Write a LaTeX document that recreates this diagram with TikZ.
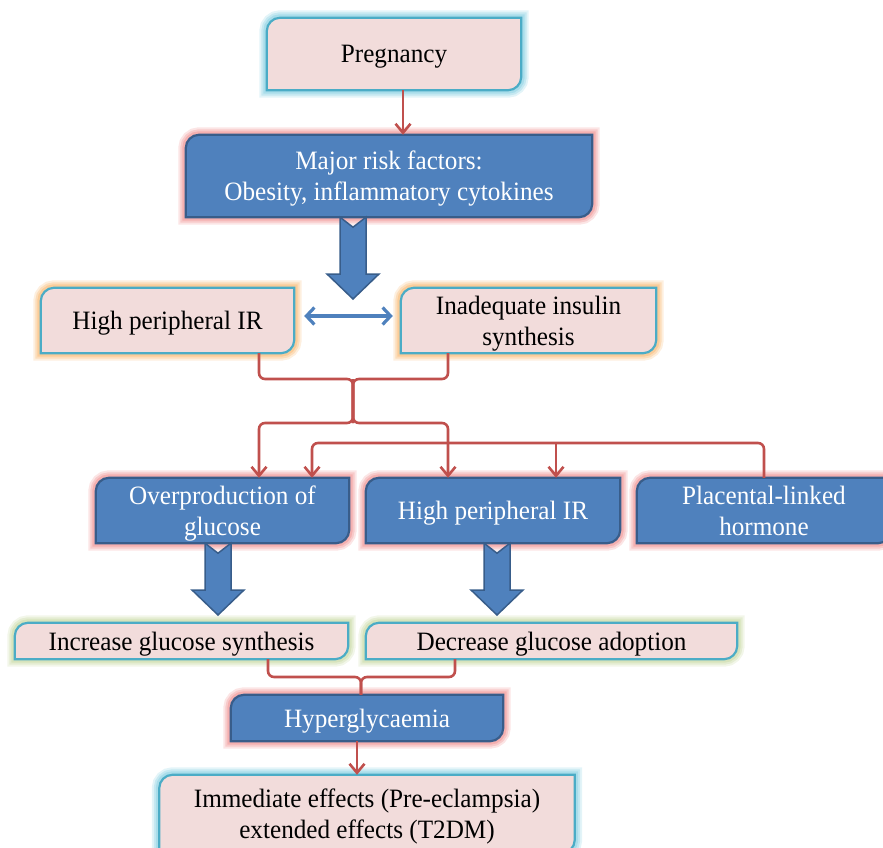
\documentclass[tikz,border=0pt]{standalone}
\usepackage{fontspec}
\setmainfont{Liberation Serif}[FakeStretch=0.95]
\usetikzlibrary{arrows.meta,backgrounds,calc}

\definecolor{pinkfill}{HTML}{F2DCDB}
\definecolor{tealline}{HTML}{4BACC6}
\definecolor{bluefill}{HTML}{4F81BD}
\definecolor{blueline}{HTML}{385D8A}
\definecolor{redline}{HTML}{C0504D}
\definecolor{cyanglow}{HTML}{7FCCE0}
\definecolor{redglow}{HTML}{EE8A8A}
\definecolor{orangeglow}{HTML}{F8B468}
\definecolor{greenglow}{HTML}{C3D69B}

\newcommand{\diagpath}[1]{([yshift=-13pt]#1.north west) .. controls ([yshift=-6pt]#1.north west) and ([xshift=6pt]#1.north west) .. ([xshift=13pt]#1.north west) -- (#1.north east) -- ([yshift=13pt]#1.south east) .. controls ([yshift=6pt]#1.south east) and ([xshift=-6pt]#1.south east) .. ([xshift=-13pt]#1.south east) -- (#1.south west) -- cycle}

\newcommand{\fatarrow}[2]{%
  \draw[fatarrow] let \p1=(#1), \p2=(#2) in
    (\x1-13pt,\y1) -- (\x1,\y1-10pt) -- (\x1+13pt,\y1) -- (\x1+13pt,\y2+25pt)
    -- (\x1+26pt,\y2+25pt) -- (\x2,\y2) -- (\x1-26pt,\y2+25pt) -- (\x1-13pt,\y2+25pt) -- cycle;}

\begin{document}
\begin{tikzpicture}[x=1pt, y=-1pt,
    every node/.style={inner sep=0pt, align=center, text height=20pt, text depth=2pt,
      font=\fontsize{26.5}{31}\selectfont},
    twoline/.style={text height=51pt},
    pinkbox/.style={text=black},
    bluebox/.style={text=white},
    redline/.style={draw=redline, line width=2.6pt, rounded corners=6pt},
    redarrow/.style={redline, -{Straight Barb[length=9pt,width=15pt]}},
    bluearrow/.style={draw=bluefill, line width=3.2pt,
      {Straight Barb[length=8pt,width=17pt]}-{Straight Barb[length=8pt,width=17pt]}},
    fatarrow/.style={fill=bluefill, draw=blueline, line width=1.5pt, line join=miter}]
  \useasboundingbox (0,0) rectangle (883,848);

  \node[pinkbox, minimum width=254pt, minimum height=72pt] (preg) at (394,54) {Pregnancy};
  \node[bluebox, twoline, minimum width=406pt, minimum height=82pt] (major) at (389,176)
    {Major risk factors:\\Obesity, inflammatory cytokines};
  \node[pinkbox, minimum width=253pt, minimum height=65pt] (hpl) at (167.5,320.5) {High peripheral IR};
  \node[pinkbox, twoline, minimum width=255pt, minimum height=65pt] (ins) at (528.5,320.5)
    {Inadequate insulin\\synthesis};
  \node[bluebox, twoline, minimum width=253pt, minimum height=65pt] (over) at (222.5,510.5)
    {Overproduction of\\glucose};
  \node[bluebox, minimum width=254pt, minimum height=65pt] (hpm) at (493,510.5) {High peripheral IR};
  \node[bluebox, twoline, minimum width=254pt, minimum height=65pt] (plac) at (764,510.5)
    {Placental-linked\\hormone};
  \node[pinkbox, minimum width=333pt, minimum height=36pt] (inc) at (181.5,641) {Increase glucose synthesis};
  \node[pinkbox, minimum width=371pt, minimum height=36pt] (dec) at (551.5,641) {Decrease glucose adoption};
  \node[bluebox, minimum width=272pt, minimum height=46pt] (hyp) at (367,718) {Hyperglycaemia};
  \node[pinkbox, twoline, minimum width=415pt, minimum height=78pt] (imm) at (367,814)
    {Immediate effects (Pre-eclampsia)\\extended effects (T2DM)};

  % box shapes with glow
  \begin{scope}[on background layer]
    \clip (0,0) rectangle (883,848);
    \foreach \n/\f/\d/\g in {preg/pinkfill/tealline/cyanglow, major/bluefill/blueline/redglow,
        hpl/pinkfill/tealline/orangeglow, ins/pinkfill/tealline/orangeglow,
        over/bluefill/blueline/redglow, hpm/bluefill/blueline/redglow, plac/bluefill/blueline/redglow,
        inc/pinkfill/tealline/greenglow, dec/pinkfill/tealline/greenglow,
        hyp/bluefill/blueline/redglow, imm/pinkfill/tealline/cyanglow}{
      \foreach \w/\o in {15/0.22, 11/0.3, 7/0.4}
        \draw[line width=\w pt, draw=\g, opacity=\o] \diagpath{\n};
      \filldraw[fill=\f, draw=\d, line width=2.2pt] \diagpath{\n};
    }
  \end{scope}

  \coordinate (tip1) at (353,299);
  \coordinate (tip2) at (218,615);
  \coordinate (tip3) at (497,615);
  \coordinate (j1) at (353,379);
  \coordinate (j2) at (353,423);
  \coordinate (j3) at (556,443);
  \coordinate (j4) at (361,677);

  \draw[redarrow] ([xshift=9pt]preg.south) -- ([xshift=14pt]major.north);
  \fatarrow{major.south -| tip1}{tip1}
  \draw[bluearrow] ([xshift=10pt,yshift=4.5pt]hpl.east) -- ([xshift=-8pt,yshift=4.5pt]ins.west);

  \draw[redline] ([xshift=91.5pt]hpl.south) |- (j1) -- (j2);
  \draw[redline] ([xshift=-80.5pt]ins.south) |- (j1) -- (j2);
  \draw[redarrow] (j1) -- (j2) -| ([xshift=36.5pt]over.north);
  \draw[redarrow] (j1) -- (j2) -| ([xshift=-45pt]hpm.north);
  \draw[redarrow] (plac.north) |- (j3) -| ([xshift=89.5pt]over.north);
  \draw[redarrow] (j3) -- (j3 |- hpm.north);

  \fatarrow{over.south -| tip2}{tip2}
  \fatarrow{hpm.south -| tip3}{tip3}

  \draw[redline] ([xshift=86.5pt]inc.south) |- (j4) -- (j4 |- hyp.north);
  \draw[redline] ([xshift=-96.5pt]dec.south) |- (j4) -- (j4 |- hyp.north);
  \draw[redarrow] ([xshift=-10pt]hyp.south) -- ([xshift=-10pt]imm.north);
\end{tikzpicture}
\end{document}
